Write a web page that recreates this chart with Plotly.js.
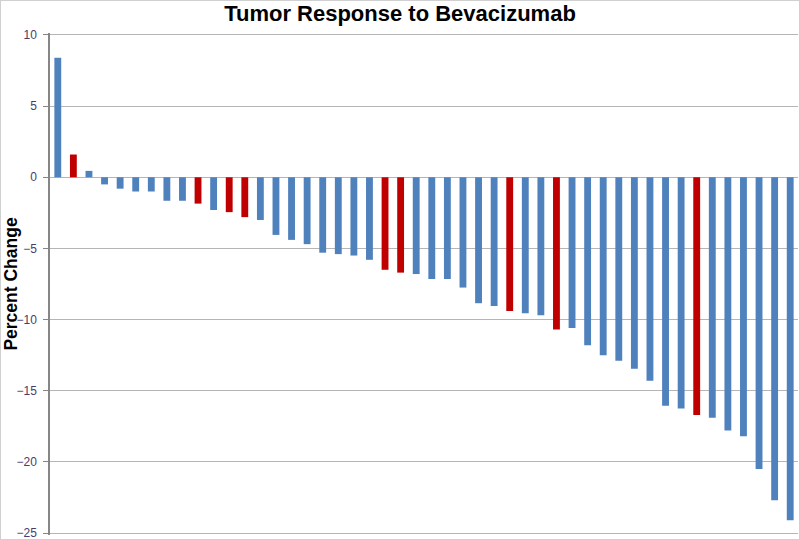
<!DOCTYPE html>
<html>
<head>
<meta charset="utf-8">
<script src="https://cdn.plot.ly/plotly-3.0.1.min.js"></script>
<style>
  body { margin: 0; background: #fff; }
  #grafica { width: 798px; height: 538px; border: 1px solid #d0d0d0; }
</style>
</head>
<body>
<div id="grafica"></div>
<script>
// percent change per patient, sorted as in the original waterfall
var cambio = [8.4, 1.6, 0.45, -0.5, -0.8, -1.0, -1.0, -1.65, -1.65, -1.85,
  -2.3, -2.45, -2.8, -3.0, -4.05, -4.4, -4.7, -5.3, -5.4, -5.5,
  -5.8, -6.5, -6.7, -6.8, -7.15, -7.15, -7.75, -8.85, -9.05, -9.4,
  -9.55, -9.7, -10.7, -10.6, -11.8, -12.5, -12.9, -13.45, -14.3, -16.05,
  -16.25, -16.7, -16.9, -17.8, -18.2, -20.5, -22.7, -24.1];
// patients drawn in red
var resaltados = [2, 10, 12, 13, 22, 23, 30, 33, 42];
var azul = '#4f81bd';
var rojo = '#c00000';
var marcasY = [-25, -20, -15, -10, -5, 0, 5, 10];

var pacientes = [];
var colores = [];
for (var i = 0; i < cambio.length; i++) {
  pacientes.push('P' + (i + 1));
  colores.push(resaltados.indexOf(i + 1) >= 0 ? rojo : azul);
}

var data = [{
  type: 'bar',
  x: pacientes,
  y: cambio,
  marker: {color: colores},
  hoverinfo: 'x+y'
}];

var layout = {
  width: 798,
  height: 538,
  margin: {l: 49, r: 1, t: 32, b: 4},
  paper_bgcolor: '#fff',
  plot_bgcolor: '#fff',
  bargap: 0.56,
  showlegend: false,
  font: {family: 'Arial, Liberation Sans, sans-serif'},
  title: {
    text: 'Tumor Response to Bevacizumab',
    x: 0.5, xanchor: 'center',
    y: 0.977, yanchor: 'middle',
    font: {size: 22, color: '#000', weight: 'bold'}
  },
  xaxis: {
    type: 'category',
    showticklabels: false,
    showgrid: false,
    zeroline: false,
    showline: false,
    ticks: ''
  },
  yaxis: {
    title: {text: 'Percent Change', font: {size: 17.5, color: '#000', weight: 'bold'}, standoff: 8},
    range: [-25.14, 10.14],
    tickvals: marcasY,
    ticks: 'outside',
    ticklen: 5,
    tickcolor: '#868686',
    ticklabelstandoff: 4,
    ticklabeloverflow: 'allow',
    tickfont: {size: 12, color: '#4b3c6b'},
    showline: true,
    linecolor: '#868686',
    linewidth: 1.5,
    gridcolor: '#b5b5b5',
    gridwidth: 1,
    zeroline: false
  }
};

Plotly.newPlot('grafica', data, layout, {displayModeBar: false});
</script>
</body>
</html>
